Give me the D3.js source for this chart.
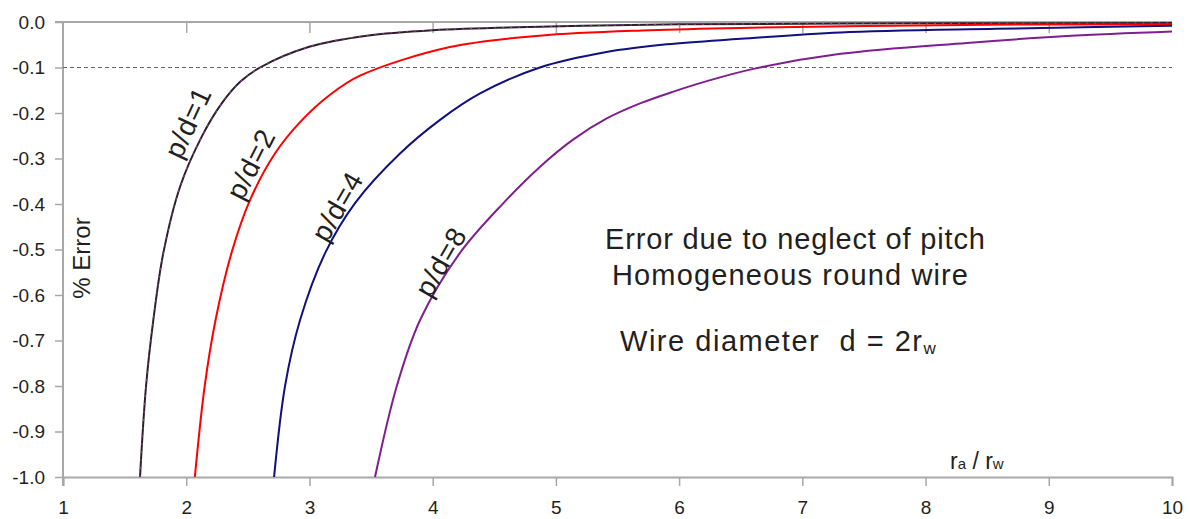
<!DOCTYPE html>
<html>
<head>
<meta charset="utf-8">
<script src="https://cdn.jsdelivr.net/npm/d3@7"></script>
<style>
  body { margin: 0; background: #fff; }
  svg text { font-family: "Liberation Sans", Arial, sans-serif; fill: #231f20; }
</style>
</head>
<body>
<div id="container"></div>
<script>
"use strict";

// values: [ra/rw, % error]
var curveP1 = [[1.625,-1.0],[1.674,-0.80],[1.733,-0.655],[1.814,-0.508],[1.95,-0.362],[2.126,-0.252],[2.288,-0.179],[2.44,-0.131],[2.599,-0.100],[3.005,-0.054],[3.465,-0.030],[4.0,-0.018],[4.95,-0.010],[6.0,-0.005],[8.0,-0.003],[10,-0.002]];
var curveP2 = [[2.07,-1.0],[2.15,-0.80],[2.238,-0.655],[2.367,-0.508],[2.52,-0.390],[2.72,-0.289],[2.924,-0.220],[3.167,-0.160],[3.41,-0.118],[4.14,-0.055],[4.87,-0.030],[5.76,-0.018],[6.58,-0.0125],[7.5,-0.009],[8.5,-0.006],[10,-0.005]];
var curveP4 = [[2.713,-1.0],[2.802,-0.80],[2.924,-0.655],[3.127,-0.508],[3.37,-0.398],[3.735,-0.289],[4.06,-0.215],[4.385,-0.157],[4.87,-0.100],[5.41,-0.066],[5.9,-0.049],[6.5,-0.037],[7.31,-0.023],[8.57,-0.015],[9.38,-0.011],[10,-0.008]];
var curveP8 = [[3.532,-1.0],[3.709,-0.80],[3.898,-0.655],[4.22,-0.508],[4.574,-0.398],[4.872,-0.318],[5.142,-0.258],[5.413,-0.212],[5.683,-0.179],[5.954,-0.153],[6.225,-0.130],[6.603,-0.103],[7.31,-0.070],[8.335,-0.046],[9.147,-0.031],[10,-0.021]];

var seriesNames = ["p/d=1", "p/d=2", "p/d=4", "p/d=8"];
var seriesColours = ["#2b2124", "#ff0000", "#10107f", "#7f1f8f"];
var seriesData = [curveP1, curveP2, curveP4, curveP8];

// label anchors (baseline middle) in data units, and the tilt of each name
var labelAt = [[2.085, -0.230], [2.595, -0.322], [3.295, -0.416], [4.135, -0.538]];
var labelAngle = [-65, -63, -60, -60];

var xTicks = [1, 2, 3, 4, 5, 6, 7, 8, 9, 10];
var yTicks = [0, -0.1, -0.2, -0.3, -0.4, -0.5, -0.6, -0.7, -0.8, -0.9, -1.0];
var yTickLabels = ["0.0", "-0.1", "-0.2", "-0.3", "-0.4", "-0.5", "-0.6", "-0.7", "-0.8", "-0.9", "-1.0"];
var limitLine = -0.1;

var width = 1190;
var height = 519;
var axisColour = "#a8a8a8";

var svg = d3.select("#container").append("svg")
    .attr("width", width)
    .attr("height", height);

var x = d3.scaleLinear().domain([1, 10]).range([63, 1172]);
var y = d3.scaleLinear().domain([-1, 0]).range([477, 22]);

//top line with small ticks hanging down
var topAxis = svg.append("g")
    .attr("transform", "translate(0," + y(0) + ")")
    .call(d3.axisTop(x).tickValues(xTicks.slice(1, 9)).tickSize(-11).tickFormat(""));

//bottom axis
var bottomAxis = svg.append("g")
    .attr("transform", "translate(0," + y(-1) + ")")
    .call(d3.axisBottom(x).tickValues(xTicks).tickSize(9).tickPadding(15).tickFormat(d3.format("d")));

//left axis
var leftAxis = svg.append("g")
    .attr("transform", "translate(" + x(1) + ",0)")
    .call(d3.axisLeft(y).tickValues(yTicks).tickSize(8).tickPadding(10).tickFormat(function (d, i) {
        return yTickLabels[i];
    }));

[topAxis, bottomAxis, leftAxis].forEach(function (g) {
    g.select(".domain").attr("stroke", axisColour).attr("stroke-width", 2);
    g.selectAll(".tick line").attr("stroke", axisColour).attr("stroke-width", 1.5);
    g.selectAll(".tick text").style("font-size", "19px").style("fill", "#231f20");
});
topAxis.select(".domain").attr("d", "M" + (x(1) - 8) + ",0H" + x(10));
leftAxis.select(".domain").attr("d", "M0," + y(0) + "V" + (y(-1) + 9));

//dashed -0.1 line
svg.append("line")
    .attr("x1", x(1)).attr("x2", x(10))
    .attr("y1", y(limitLine)).attr("y2", y(limitLine))
    .attr("stroke", "#6b6262")
    .attr("stroke-width", 1.2)
    .attr("stroke-dasharray", "4,3");

var line = d3.line()
    .x(function (d) { return x(d[0]); })
    .y(function (d) { return y(d[1]); })
    .curve(d3.curveCatmullRom.alpha(0.5));

svg.selectAll("path.curve")
    .data(seriesData)
    .enter().append("path")
    .attr("class", "curve")
    .attr("d", line)
    .attr("fill", "none")
    .attr("stroke", function (d, i) { return seriesColours[i]; })
    .attr("stroke-width", 2);

//the p/d=1 curve has a purple dashed trace on top
svg.append("path")
    .attr("d", line(curveP1))
    .attr("fill", "none")
    .attr("stroke", "#8a3aa8")
    .attr("stroke-width", 1.2)
    .attr("stroke-dasharray", "2,6");

//curve names
svg.selectAll("text.name")
    .data(seriesNames)
    .enter().append("text")
    .attr("class", "name")
    .attr("transform", function (d, i) {
        return "translate(" + x(labelAt[i][0]) + "," + y(labelAt[i][1]) + ") rotate(" + labelAngle[i] + ")";
    })
    .attr("text-anchor", "middle")
    .style("font-size", "28px")
    .style("letter-spacing", "0.8px")
    .text(function (d) { return d; });

//axis titles
svg.append("text")
    .attr("transform", "translate(90,258) rotate(-90)")
    .attr("text-anchor", "middle")
    .style("font-size", "24px")
    .text("% Error");

var xTitle = svg.append("text")
    .attr("x", 950).attr("y", 469)
    .style("font-size", "23px");
xTitle.append("tspan").text("r");
xTitle.append("tspan").style("font-size", "15px").text("a");
xTitle.append("tspan").text(" / r");
xTitle.append("tspan").style("font-size", "15px").text("w");

//notes
var notes = svg.append("g").style("font-size", "29px");
notes.append("text").attr("x", 605).attr("y", 249).attr("textLength", 380).text("Error due to neglect of pitch");
notes.append("text").attr("x", 612).attr("y", 285).attr("textLength", 356).text("Homogeneous round wire");
var wire = notes.append("text").attr("x", 620).attr("y", 351).style("white-space", "pre");
wire.append("tspan").attr("textLength", 302).text("Wire diameter  d = 2r");
wire.append("tspan").attr("dy", 3).style("font-size", "17px").text("w");
</script>
</body>
</html>
